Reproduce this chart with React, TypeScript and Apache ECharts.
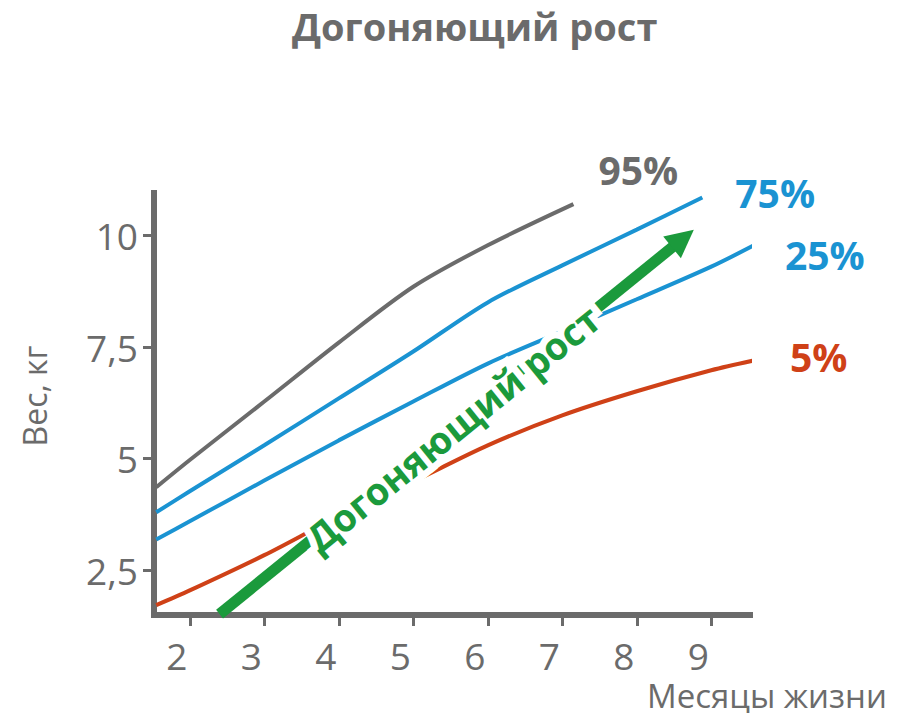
import React, { useEffect, useRef } from "react";
import * as echarts from "echarts";

// Percentile curves: age in months and weight in kg
const months95 = [1.55, 2, 3, 4, 5, 6, 7.15];
const weight95 = [4.36, 4.97, 6.28, 7.6, 8.85, 9.78, 10.7];
const months75 = [1.55, 2, 3, 4, 5, 6, 7, 8, 8.88];
const weight75 = [3.8, 4.27, 5.3, 6.35, 7.4, 8.5, 9.33, 10.13, 10.85];
const months25 = [1.55, 2, 3, 4, 5, 6, 7, 8, 9, 9.62];
const weight25 = [3.19, 3.6, 4.51, 5.41, 6.28, 7.13, 7.85, 8.57, 9.3, 9.82];
const months5 = [1.55, 2, 3, 4, 5, 6, 7, 8, 9, 9.63];
const weight5 = [1.72, 2.05, 2.84, 3.71, 4.49, 5.3, 5.97, 6.51, 6.98, 7.22];

const monthTicks = [2, 3, 4, 5, 6, 7, 8, 9];
const weightTicks = [2.5, 5, 7.5, 10];

// Catch-up growth arrow, [month, kg]
const catchUpFrom = [2.4, 1.52];
const catchUpTo = [8.62, 9.93];

const GRAY = "#6b6b6b";
const BLUE = "#1a93d2";
const RED = "#cf4117";
const GREEN = "#1b9a3c";
const FONT = "'Open Sans', 'Noto Sans', sans-serif";

const pairs = (xs: number[], ys: number[]) => xs.map((x, i) => [x, ys[i]]);

function curve(name: string, xs: number[], ys: number[], color: string, offset: number[]) {
  return {
    name,
    type: "line",
    data: pairs(xs, ys),
    smooth: 0.3,
    showSymbol: false,
    silent: true,
    lineStyle: { color, width: 4 },
    endLabel: {
      show: true,
      formatter: "{a}",
      distance: 0,
      offset,
      color,
      fontSize: 39,
      fontWeight: "bold",
      fontFamily: FONT,
    },
  };
}

export default function App() {
  const ref = useRef<HTMLDivElement>(null);

  useEffect(() => {
    if (!ref.current) return;
    const chart = echarts.init(ref.current, null, { renderer: "svg" });
    chart.setOption({
      animation: false,
      backgroundColor: "#ffffff",
      title: {
        text: "Догоняющий рост",
        left: 287,
        top: 2,
        textStyle: { color: GRAY, fontSize: 38, fontWeight: "bold", fontFamily: FONT },
      },
      grid: { left: 154, right: 147, top: 193, bottom: 98, containLabel: false, outerBoundsMode: "none" },
      graphic: [
        {
          type: "text",
          x: 647,
          y: 695,
          silent: true,
          style: {
            text: "Месяцы жизни",
            fill: GRAY,
            fontSize: 33,
            lineHeight: 28,
            fontFamily: FONT,
            align: "left",
            verticalAlign: "middle",
          },
        },
      ],
      xAxis: {
        type: "value",
        min: 1.52,
        max: 9.52,
        z: 3,
        axisLine: { lineStyle: { color: GRAY, width: 6, cap: "square" } },
        axisTick: { show: true, customValues: monthTicks, length: 11, lineStyle: { color: GRAY, width: 3 } },
        axisLabel: {
          customValues: monthTicks,
          margin: 23,
          lineHeight: 34,
          padding: [0, 26, 0, 0],
          color: GRAY,
          fontSize: 37,
          fontFamily: FONT,
        },
        splitLine: { show: false },
      },
      yAxis: {
        type: "value",
        min: 1.5,
        max: 10.95,
        z: 3,
        name: "Вес, кг",
        nameLocation: "middle",
        nameRotate: 90,
        nameGap: 104,
        nameTextStyle: { color: GRAY, fontSize: 32, fontFamily: FONT, padding: [0, 0, 0, 16] },
        axisLine: { lineStyle: { color: GRAY, width: 6, cap: "square" } },
        axisTick: { show: true, customValues: weightTicks, length: 11, lineStyle: { color: GRAY, width: 3 } },
        axisLabel: {
          customValues: weightTicks,
          margin: 16,
          color: GRAY,
          fontSize: 37,
          fontFamily: FONT,
          formatter: (v: number) => String(v).replace(".", ","),
        },
        splitLine: { show: false },
      },
      series: [
        curve("95%", months95, weight95, GRAY, [25, -35]),
        curve("75%", months75, weight75, BLUE, [33, -5]),
        curve("25%", months25, weight25, BLUE, [33, 8]),
        curve("5%", months5, weight5, RED, [38, -4]),
        {
          name: "Догоняющий рост",
          type: "line",
          data: [],
          z: 4,
          silent: true,
          markLine: {
            silent: true,
            animation: false,
            symbol: ["none", "triangle"],
            symbolSize: 28,
            lineStyle: { color: GREEN, width: 11, type: "solid" },
            label: {
              show: true,
              position: "middle",
              distance: [0, -21],
              formatter: "Догоняющий рост",
              color: GREEN,
              fontSize: 38,
              fontWeight: "bold",
              fontFamily: FONT,
              textBorderColor: "#ffffff",
              textBorderWidth: 14,
            },
            emphasis: { disabled: true },
            data: [[{ coord: catchUpFrom }, { coord: catchUpTo }]],
          },
        },
      ],
    });
    return () => chart.dispose();
  }, []);

  return <div ref={ref} style={{ position: "fixed", left: 0, top: 0, width: 897, height: 713 }} />;
}
